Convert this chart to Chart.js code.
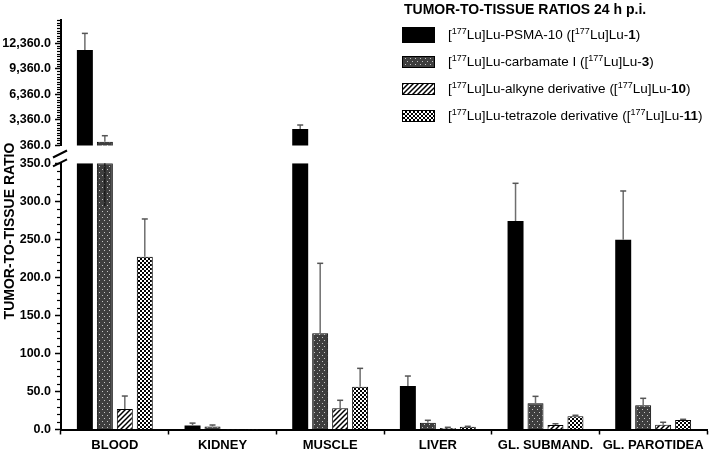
<!DOCTYPE html>
<html><head><meta charset="utf-8">
<script src="https://cdn.jsdelivr.net/npm/chart.js@4.4.1/dist/chart.umd.min.js"></script>
<style>
html,body{margin:0;padding:0;background:#fff;}
#wrap{position:relative;width:709px;height:450px;overflow:hidden;}
#c{position:absolute;left:0;top:0;}
#legend{position:absolute;left:0;top:0;width:709px;height:140px;font-family:"Liberation Sans",Arial,sans-serif;color:#000;pointer-events:none;}
#legend .ttl{position:absolute;left:404px;top:1px;font-size:14px;font-weight:bold;line-height:16px;white-space:nowrap;}
#legend .row{position:absolute;left:402px;height:18px;white-space:nowrap;}
#legend .sw{position:absolute;left:0;width:33px;box-sizing:border-box;}
#legend .tx{position:absolute;left:46px;top:1px;font-size:13.5px;line-height:16px;}
#legend sup{font-size:9px;vertical-align:5px;line-height:0;}
</style></head><body>
<div id="wrap"><canvas id="c" width="709" height="450"></canvas><div id="legend"></div></div>
<script>
// ---------- data ----------
const categories = ['BLOOD', 'KIDNEY', 'MUSCLE', 'LIVER', 'GL. SUBMAND.', 'GL. PAROTIDEA'];
const psma10       = [11569, 5.4, 2297, 57.2, 274.1, 249.5];
const psma10Err    = [1960, 3.0, 469, 13.1, 49.6, 64.1];
const carbamate    = [806, 4.1, 126.5, 8.9, 34.4, 31.8];
const carbamateErr = [704, 1.8, 92, 3.2, 9.2, 9.2];
const carbamateLowWhisker = [294, null, null, null, null, null];
const alkyne       = [27, 0.2, 27.9, 2.0, 5.9, 6.3];
const alkyneErr    = [17, 0, 10.5, 0.9, 1.7, 3.2];
const tetrazole    = [227, 0.3, 56.3, 3.7, 17.4, 12.5];
const tetrazoleErr = [49.8, 0, 24.1, 0.5, 1.3, 0.9];
const lowerTicks = [0, 50, 100, 150, 200, 250, 300, 350];
const upperTicks = [360, 3360, 6360, 9360, 12360];
const LOWER_MAX = 350, UPPER_MIN = 360, UPPER_MAX = 15100;
const seriesNames = [
  '[177Lu]Lu-PSMA-10 ([177Lu]Lu-1)',
  '[177Lu]Lu-carbamate I ([177Lu]Lu-3)',
  '[177Lu]Lu-alkyne derivative ([177Lu]Lu-10)',
  '[177Lu]Lu-tetrazole derivative ([177Lu]Lu-11)'
];
const legendHtml = [
  '[<sup>177</sup>Lu]Lu-PSMA-10 ([<sup>177</sup>Lu]Lu-<b>1</b>)',
  '[<sup>177</sup>Lu]Lu-carbamate I ([<sup>177</sup>Lu]Lu-<b>3</b>)',
  '[<sup>177</sup>Lu]Lu-alkyne derivative ([<sup>177</sup>Lu]Lu-<b>10</b>)',
  '[<sup>177</sup>Lu]Lu-tetrazole derivative ([<sup>177</sup>Lu]Lu-<b>11</b>)'
];
const axisTitle = 'TUMOR-TO-TISSUE RATIO';
const legendTitle = 'TUMOR-TO-TISSUE RATIOS 24 h p.i.';

const seriesVals = [psma10, carbamate, alkyne, tetrazole];
const seriesErr = [psma10Err, carbamateErr, alkyneErr, tetrazoleErr];
const FONT = "'Liberation Sans', Arial, sans-serif";

// ---------- patterns ----------
function makeTile(kind){
  const c = document.createElement('canvas');
  const x = c.getContext('2d');
  if (kind === 'solid'){ c.width = 4; c.height = 4; x.fillStyle = '#000'; x.fillRect(0,0,4,4); }
  if (kind === 'dots'){
    c.width = 10; c.height = 6;
    x.fillStyle = '#3e3e3e'; x.fillRect(0,0,10,6);
    x.fillStyle = '#c4c4c4';
    x.fillRect(2,1,1,1); x.fillRect(7,1,1,1); x.fillRect(4,4,1,1); x.fillRect(9,4,1,1);
  }
  if (kind === 'hatch'){
    c.width = 5; c.height = 5;
    x.fillStyle = '#fff'; x.fillRect(0,0,5,5);
    x.strokeStyle = '#000'; x.lineWidth = 1.5;
    x.beginPath();
    x.moveTo(-1,6); x.lineTo(6,-1);
    x.moveTo(-1,1); x.lineTo(1,-1);
    x.moveTo(4,6); x.lineTo(6,4);
    x.stroke();
  }
  if (kind === 'check'){
    c.width = 4; c.height = 4;
    x.fillStyle = '#000'; x.fillRect(0,0,4,4);
    x.fillStyle = '#fff'; x.fillRect(0,0,2,2); x.fillRect(2,2,2,2);
  }
  return c;
}
const kinds = ['solid', 'dots', 'hatch', 'check'];
const tiles = kinds.map(makeTile);
const canvas = document.getElementById('c');
const ctx2d = canvas.getContext('2d');
const fills = tiles.map((t,i) => i === 0 ? '#000' : ctx2d.createPattern(t, 'repeat'));

// ---------- legend (HTML) ----------
(function(){
  const lg = document.getElementById('legend');
  const t = document.createElement('div'); t.className = 'ttl'; t.textContent = legendTitle; lg.appendChild(t);
  const rowCenters = [35, 62, 89, 116];
  const swH = [16, 12, 12, 12];
  legendHtml.forEach((h, i) => {
    const r = document.createElement('div'); r.className = 'row';
    r.style.top = (rowCenters[i] - 9) + 'px';
    const sw = document.createElement('div'); sw.className = 'sw';
    sw.style.height = swH[i] + 'px'; sw.style.top = (9 - swH[i]/2) + 'px';
    sw.style.background = 'url(' + tiles[i].toDataURL() + ')';
    if (i > 0) sw.style.border = '1px solid #000';
    const tx = document.createElement('div'); tx.className = 'tx'; tx.innerHTML = h;
    r.appendChild(sw); r.appendChild(tx); lg.appendChild(r);
  });
})();

// ---------- datasets ----------
const datasets = [];
seriesVals.forEach((vals, k) => {
  const common = {
    backgroundColor: fills[k], borderColor: '#000', borderWidth: k === 0 ? 0 : 1,
    stack: 's' + k, categoryPercentage: 0.742, barPercentage: 0.8
  };
  datasets.push(Object.assign({label: seriesNames[k], yAxisID: 'y',
    data: vals.map(v => Math.min(v, LOWER_MAX))}, common));
  datasets.push(Object.assign({label: seriesNames[k] + ' (upper)', yAxisID: 'yTop',
    data: vals.map(v => v > UPPER_MIN ? v : null)}, common));
});

const fmt = v => Number(v).toLocaleString('en-US', {minimumFractionDigits: 1, maximumFractionDigits: 1});

// ---------- plugins ----------
const extras = {
  id: 'extras',
  afterDatasetsDraw(chart){
    const c = chart.ctx;
    const yL = chart.scales.y, yU = chart.scales.yTop;
    c.save();
    seriesVals.forEach((vals, k) => {
      const lowMeta = chart.getDatasetMeta(2*k), upMeta = chart.getDatasetMeta(2*k + 1);
      vals.forEach((v, j) => {
        const e = seriesErr[k][j];
        const upper = v > UPPER_MIN;
        const sc = upper ? yU : yL;
        const el = (upper ? upMeta : lowMeta).data[j];
        if (!el) return;
        const x = el.x;
        if (e) {
          const y0 = sc.getPixelForValue(v), y1 = sc.getPixelForValue(v + e);
          c.strokeStyle = '#6e6e6e'; c.lineWidth = 1.5;
          c.beginPath(); c.moveTo(x, y0); c.lineTo(x, y1); c.stroke();
          c.strokeStyle = '#555'; c.lineWidth = 1.5;
          c.beginPath(); c.moveTo(x - 3, y1); c.lineTo(x + 3, y1); c.stroke();
        }
      });
    });
    // visible lower whisker inside the clipped blood carbamate bar
    const lm = chart.getDatasetMeta(2);
    carbamateLowWhisker.forEach((w, j) => {
      if (w == null) return;
      const x = lm.data[j].x;
      c.strokeStyle = '#111'; c.lineWidth = 1.2;
      c.beginPath(); c.moveTo(x, yL.getPixelForValue(LOWER_MAX)); c.lineTo(x, yL.getPixelForValue(w)); c.stroke();
    });
    c.restore();
  },
  afterDraw(chart){
    const c = chart.ctx;
    const yL = chart.scales.y, yU = chart.scales.yTop;
    const ax = chart.chartArea.left;
    c.save();
    c.strokeStyle = '#000'; c.lineWidth = 1.2;
    // minor ticks
    for (let v = 0; v <= LOWER_MAX; v += 10) {
      if (v % 50 === 0) continue;
      const py = Math.round(yL.getPixelForValue(v)) + 0.5;
      c.beginPath(); c.moveTo(ax - 4, py); c.lineTo(ax, py); c.stroke();
    }
    for (let v = UPPER_MIN; v <= UPPER_MAX; v += 300) {
      if ((v - UPPER_MIN) % 3000 === 0) continue;
      const py = Math.round(yU.getPixelForValue(v)) + 0.5;
      c.beginPath(); c.moveTo(ax - 4, py); c.lineTo(ax, py); c.stroke();
    }
    // break marks
    c.lineWidth = 2;
    const b1 = yU.bottom + 8.5, b2 = yL.top - 0.5;
    [b1, b2].forEach(by => {
      c.beginPath(); c.moveTo(ax - 8, by + 3.5); c.lineTo(ax + 6, by - 3.5); c.stroke();
    });
    // axis title
    c.fillStyle = '#000';
    c.font = 'bold 14px ' + FONT;
    c.textAlign = 'center'; c.textBaseline = 'middle';
    c.translate(10, 231); c.rotate(-Math.PI / 2);
    c.fillText(axisTitle, 0, 0);
    c.restore();
  }
};

const tickFont = {family: FONT, size: 12.5, weight: 'bold'};

new Chart(canvas, {
  type: 'bar',
  data: {labels: categories, datasets},
  options: {
    responsive: false, animation: false, devicePixelRatio: 1,
    layout: {padding: {top: 20, right: 2, left: 0, bottom: 0}},
    plugins: {legend: {display: false}, tooltip: {enabled: false}},
    scales: {
      x: {
        type: 'category', offset: true,
        grid: {display: true, drawOnChartArea: false, offset: true, tickLength: 5, tickColor: '#000', tickWidth: 1.5},
        border: {display: true, color: '#000', width: 2},
        ticks: {font: {family: FONT, size: 13, weight: 'bold'}, color: '#000', padding: 3, maxRotation: 0, autoSkip: false},
        afterFit: s => { s.height = 20.5; }
      },
      y: {
        type: 'linear', position: 'left', stack: 'v', stackWeight: 266.2, weight: 1,
        min: 0, max: LOWER_MAX, stacked: false,
        border: {display: true, color: '#000', width: 2},
        grid: {drawOnChartArea: false, drawTicks: true, tickLength: 6, tickColor: '#000', tickWidth: 1.5},
        ticks: {font: tickFont, color: '#000', padding: 4, autoSkip: false, callback: v => fmt(v)},
        afterBuildTicks: s => { s.ticks = lowerTicks.map(v => ({value: v})); },
        afterFit: s => { s.width = 61; }
      },
      yGap: {
        type: 'linear', position: 'left', stack: 'v', stackWeight: 17.8, weight: 2,
        min: 0, max: 1,
        border: {display: false}, grid: {display: false}, ticks: {display: false},
        afterFit: s => { s.width = 61; }
      },
      yTop: {
        type: 'linear', position: 'left', stack: 'v', stackWeight: 125.5, weight: 3,
        min: UPPER_MIN, max: UPPER_MAX, stacked: false,
        border: {display: true, color: '#000', width: 2},
        grid: {drawOnChartArea: false, drawTicks: true, tickLength: 6, tickColor: '#000', tickWidth: 1.5},
        ticks: {font: tickFont, color: '#000', padding: 4, autoSkip: false, callback: v => fmt(v)},
        afterBuildTicks: s => { s.ticks = upperTicks.map(v => ({value: v})); },
        afterFit: s => { s.width = 61; }
      }
    }
  },
  plugins: [extras]
});
</script>
</body></html>
